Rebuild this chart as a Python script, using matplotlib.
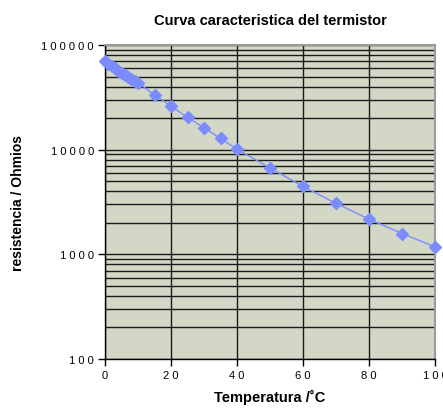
import numpy as np
import matplotlib
matplotlib.use('Agg')
import matplotlib.pyplot as plt
from matplotlib.ticker import FixedLocator, FixedFormatter, NullFormatter, LogLocator

plt.rcParams['font.family'] = ['Liberation Sans', 'DejaVu Sans']

# Temperature (C) and thermistor resistance (Ohm)
temperatura = [0, 1, 2, 3, 4, 5, 6, 7, 8, 9, 10,
               15, 20, 25, 30, 35, 40, 50, 60, 70, 80, 90, 100]
resistencia = [70000, 66500, 63000, 60000, 57000, 54500, 52000, 49500, 47500, 45500, 43500,
               33500, 26000, 20300, 16200, 12800, 10100, 6700, 4450, 3070, 2170, 1580, 1180]

y_ticks = [100, 1000, 10000, 100000]
x_ticks = [0, 20, 40, 60, 80, 100]

def spaced(s):
    # excel-style letter spacing on tick labels
    return ' '.join(s)

fig = plt.figure(figsize=(4.43, 4.10), dpi=100)
ax = fig.add_axes([105/443, 50/410, 330/443, 314/410])
ax.set_facecolor('#d3d8c6')

ax.set_yscale('log')
ax.set_xlim(0, 100)
ax.set_ylim(100, 100000)

# grid: vertical majors, horizontal majors + minors
ax.xaxis.set_major_locator(FixedLocator(x_ticks))
ax.xaxis.set_major_formatter(FixedFormatter([spaced(str(v)) for v in x_ticks]))
ax.yaxis.set_major_locator(FixedLocator(y_ticks))
ax.yaxis.set_major_formatter(FixedFormatter([spaced(str(v)) for v in y_ticks]))
ax.yaxis.set_minor_locator(LogLocator(base=10, subs=np.arange(2, 10)))
ax.yaxis.set_minor_formatter(NullFormatter())

ax.grid(True, which='major', axis='both', color='#1a1a1a', lw=1.0)
ax.grid(True, which='minor', axis='y', color='#1a1a1a', lw=1.0)
ax.set_axisbelow(True)

ax.tick_params(axis='both', which='major', direction='out', length=5, width=1,
               color='black', labelsize=8, pad=3)
ax.tick_params(axis='y', which='minor', length=0)

for s in ['left', 'bottom']:
    ax.spines[s].set_color('black')
    ax.spines[s].set_linewidth(1)
for s in ['top', 'right']:
    ax.spines[s].set_color('#9a9a9a')
    ax.spines[s].set_linewidth(1.5)

ax.plot(temperatura, resistencia, color='#7b8cff', lw=1, marker='D',
        markersize=6, markeredgecolor='#7b8cff', clip_on=False, zorder=5)

ax.set_title('Curva caracteristica del termistor', fontsize=10.5, fontweight='bold', pad=15)
ax.set_xlabel('Temperatura /\u02daC', fontsize=10.5, fontweight='bold', labelpad=6)
ax.set_ylabel('resistencia / Ohmios', fontsize=10, fontweight='bold', labelpad=12)

fig.savefig('out.png', dpi=100)
